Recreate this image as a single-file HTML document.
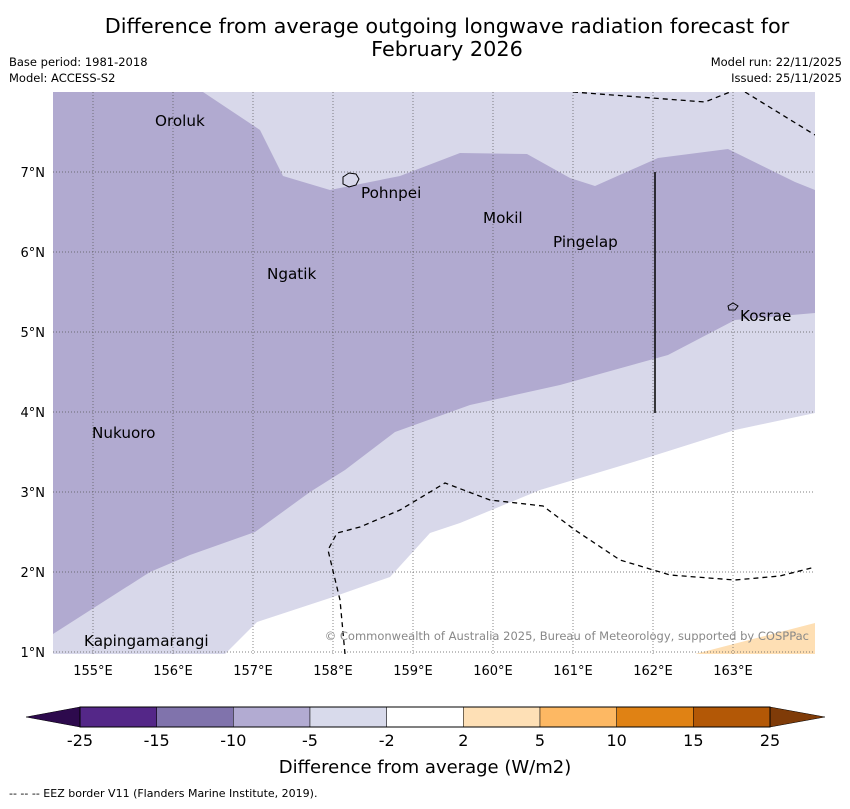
<!DOCTYPE html>
<html><head><meta charset="utf-8"><style>
body{margin:0;background:#fff;font-family:"Liberation Sans","DejaVu Sans",sans-serif}
svg text{font-family:"DejaVu Sans","Liberation Sans",sans-serif}
</style></head><body>
<svg width="850" height="804" viewBox="0 0 850 804">
<text x="447" y="33" text-anchor="middle" font-size="20.8">Difference from average outgoing longwave radiation forecast for</text>
<text x="447" y="56" text-anchor="middle" font-size="20.8">February 2026</text>
<text x="9" y="66" font-size="11.5">Base period: 1981-2018</text>
<text x="9" y="82" font-size="11.5">Model: ACCESS-S2</text>
<text x="842" y="66" font-size="11.5" text-anchor="end">Model run: 22/11/2025</text>
<text x="842" y="82" font-size="11.5" text-anchor="end">Issued: 25/11/2025</text>
<defs><clipPath id="mc"><rect x="53" y="92" width="762" height="562"/></clipPath></defs>
<g clip-path="url(#mc)">
<rect x="53" y="92" width="762" height="562" fill="#d8d8ea"/>
<polygon fill="#b1aad0" points="53,92 203,92 230,110 260,130 283,176 330,190 400,176 460,153 527,154 570,178 595,186 658,158 728,149 795,182 815,190 815,313 735,320 668,355 560,385 470,405 395,432 345,470 310,492 255,532 190,555 150,572 53,634"/>
<polygon fill="#ffffff" points="815,413 735,430 640,460 540,490 460,523 430,533 390,577 330,598 257,622 225,654 815,654"/>
<polygon fill="#fedfb4" points="695,654 815,623 815,654"/>
<g id="grid" stroke="#555" stroke-width="0.7" stroke-dasharray="1,2"></g>
<g fill="none" stroke="#000" stroke-width="1.3" stroke-dasharray="5,4">
<polyline points="573,92 705,102 740,88"/>
<polyline points="745,92 815,135"/>
<polyline points="345,654 340,600 328,550 337,533 360,527 400,510 445,483 490,500 543,506 575,530 620,560 670,575 735,580 780,576 815,567"/>
</g>
<line x1="655" y1="172" x2="655" y2="413" stroke="#000" stroke-width="1.5"/>
<path d="M343,177 l6,-4 l7,1 l3,5 l-3,6 l-7,2 l-6,-3z" fill="none" stroke="#000"/>
<path d="M728,306 l5,-3 l5,3 l-3,4 l-6,0z" fill="none" stroke="#000"/>
<g font-size="15.2">
<text x="155" y="126">Oroluk</text><text x="361" y="198">Pohnpei</text>
<text x="483" y="223">Mokil</text><text x="553" y="247">Pingelap</text>
<text x="267" y="279">Ngatik</text><text x="740" y="321">Kosrae</text>
<text x="92" y="438">Nukuoro</text><text x="84" y="646">Kapingamarangi</text>
</g>
<text x="809" y="640" font-size="11.5" fill="#888" text-anchor="end">© Commonwealth of Australia 2025, Bureau of Meteorology, supported by COSPPac</text>
</g>
<g id="ticks" font-size="13"></g>
<g>
<polygon points="80,707 26,717 80,727" fill="#2d0a4d" stroke="#000" stroke-width="0.5"/>
<polygon points="770,707 825,717 770,727" fill="#7f3b08" stroke="#000" stroke-width="0.5"/>
<g id="cb"></g>
<rect x="80" y="707" width="690" height="20" fill="none" stroke="#000" stroke-width="1"/>
</g>
<text x="425" y="773" text-anchor="middle" font-size="18">Difference from average (W/m2)</text>
<text x="9" y="797" font-size="11">--  --  -- EEZ border V11 (Flanders Marine Institute, 2019).</text>
</svg>
<script>
const lonTicks=[155,156,157,158,159,160,161,162,163];
const latTicks=[1,2,3,4,5,6,7];
const cbLabels=["-25","-15","-10","-5","-2","2","5","10","15","25"];
const cbColors=["#542788","#8073ac","#b2abd2","#d8daeb","#ffffff","#fee0b6","#fdb863","#e08214","#b35806"];
const NS="http://www.w3.org/2000/svg";
const xs=lon=>53+(lon-154.5)*80, ys=lat=>652-(lat-1)*80;
const grid=document.getElementById('grid'),ticks=document.getElementById('ticks'),cb=document.getElementById('cb');
function mk(t,a,p){const e=document.createElementNS(NS,t);for(const k in a)e.setAttribute(k,a[k]);p.appendChild(e);return e;}
lonTicks.forEach(l=>{const x=xs(l);
 const g=mk('line',{x1:x,x2:x,y1:92,y2:654},grid);
 
 
 const t=mk('text',{x:x,y:675,'text-anchor':'middle'},ticks);t.textContent=l+'°E';
 
 });
latTicks.forEach(l=>{const y=ys(l);
 const g=mk('line',{x1:53,x2:815,y1:y,y2:y},grid);
 
 
 const t=mk('text',{x:45,y:y+5,'text-anchor':'end'},ticks);t.textContent=l+'°N';
 
 });
const w=690/cbColors.length;
cbColors.forEach((c,i)=>{const r=mk('rect',{x:80+i*w,y:707,width:w,height:20,fill:c,stroke:'#000','stroke-width':0.5},cb);
 
 });
cbLabels.forEach((s,i)=>{const t=mk('text',{x:80+i*w,y:746,'text-anchor':'middle','font-size':16},cb);t.textContent=s;
 
 });
</script>
</body></html>
